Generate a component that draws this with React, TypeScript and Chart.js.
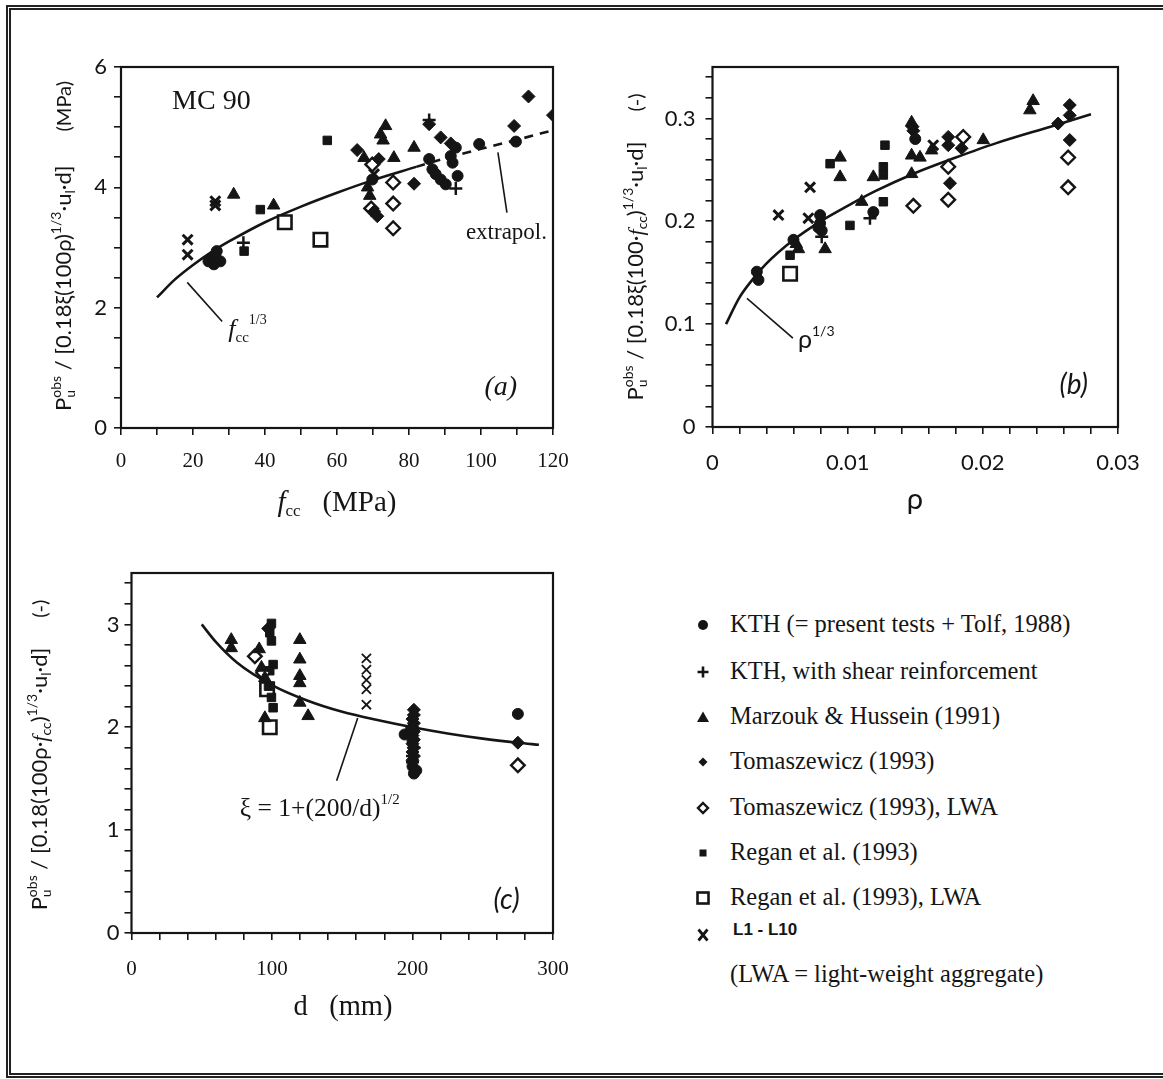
import React, { useEffect, useRef } from 'react';
import { Chart, registerables } from 'chart.js';
Chart.register(...registerables);

// ---------------- DATA ----------------
// (a)  fcc [MPa] vs normalised strength [MPa]
const aCurveX = [10, 15, 20, 25, 30, 40, 50, 60, 70, 82];
const aCurveY = [2.17, 2.47, 2.71, 2.92, 3.1, 3.42, 3.68, 3.91, 4.12, 4.34];
const aExtrapX = [82, 90, 100, 110, 120];
const aExtrapY = [4.34, 4.48, 4.64, 4.79, 4.95];
const aKTH = [[24.3, 2.77], [25.2, 2.8], [26.2, 2.86], [26.6, 2.94], [27.6, 2.77], [25.8, 2.72], [69.8, 4.13], [85.6, 4.47], [86.5, 4.3], [87.4, 4.22], [88.8, 4.13], [90.2, 4.05], [91.6, 4.52], [92.1, 4.41], [93, 4.66], [93.5, 4.19], [99.5, 4.72], [109.7, 4.76]];
const aShear = [[34, 3.08], [85.6, 5.12], [93, 3.98]];
const aMarzouk = [[31.3, 3.88], [42.4, 3.7], [67.5, 4.49], [69.1, 3.86], [68.5, 4.0], [72.1, 4.88], [72.8, 4.78], [73.5, 5.02], [75.8, 4.49], [81.4, 4.66]];
const aTomas = [[65.6, 4.62], [71.6, 4.47], [70.3, 3.6], [71.2, 3.52], [81.4, 4.06], [85.6, 5.05], [88.8, 4.83], [91.6, 4.73], [109.2, 5.02], [113.2, 5.51], [120, 5.2]];
const aTomasLWA = [[69.8, 4.38], [69.5, 3.65], [75.6, 4.08], [75.6, 3.73], [75.6, 3.32]];
const aRegan = [[34.2, 2.94], [38.7, 3.63], [57.3, 4.78]];
const aReganLWA = [[45.5, 3.42], [55.4, 3.13]];
const aL = [[18.5, 3.13], [18.5, 2.88], [26.2, 3.77], [26.2, 3.7], [70.3, 4.22]];

// (b)  rho vs normalised strength [-]
const bCurveX = [0.001, 0.002, 0.003, 0.004, 0.006, 0.008, 0.01, 0.012, 0.015, 0.018, 0.021, 0.025, 0.028];
const bCurveY = [0.1, 0.126, 0.144, 0.159, 0.182, 0.2, 0.215, 0.229, 0.247, 0.262, 0.276, 0.292, 0.304];
const bKTH = [[0.00328, 0.151], [0.0034, 0.143], [0.00599, 0.182], [0.00796, 0.206], [0.00796, 0.198], [0.00808, 0.191], [0.00783, 0.194], [0.0119, 0.209], [0.015, 0.28]];
const bShear = [[0.00808, 0.185], [0.01165, 0.203]];
const bMarzouk = [[0.00636, 0.173], [0.0062, 0.178], [0.00833, 0.173], [0.00944, 0.262], [0.00944, 0.243], [0.01104, 0.219], [0.0119, 0.243], [0.01473, 0.296], [0.01473, 0.264], [0.01535, 0.262], [0.01473, 0.246], [0.01621, 0.269], [0.02003, 0.279], [0.02372, 0.317], [0.02348, 0.308]];
const bTomas = [[0.01486, 0.288], [0.0148, 0.292], [0.01744, 0.282], [0.01744, 0.274], [0.01757, 0.237], [0.01843, 0.271], [0.02557, 0.295], [0.02643, 0.313], [0.02643, 0.303], [0.02643, 0.279]];
const bTomasLWA = [[0.01486, 0.215], [0.01744, 0.253], [0.01744, 0.221], [0.01855, 0.282], [0.02631, 0.262], [0.02631, 0.233]];
const bRegan = [[0.0087, 0.256], [0.00574, 0.167], [0.01017, 0.196], [0.01276, 0.274], [0.01264, 0.253], [0.01264, 0.245], [0.01264, 0.219]];
const bReganLWA = [[0.00574, 0.149]];
const bL = [[0.00488, 0.206], [0.00722, 0.233], [0.00709, 0.203], [0.01633, 0.274]];

// (c)  d [mm] vs normalised strength [-]
const cCurveX = [50, 60, 75, 100, 125, 150, 175, 200, 225, 250, 275, 290];
const cCurveY = [3.0, 2.83, 2.63, 2.41, 2.26, 2.15, 2.07, 2.0, 1.94, 1.89, 1.85, 1.83];
const cKTH = [[194.4, 1.93], [200, 1.62], [202.7, 1.58], [201, 1.55], [275, 2.13], [199, 1.98], [200, 1.87]];
const cShear = [[200, 1.72], [201, 1.8], [200, 1.66]];
const cMarzouk = [[71, 2.85], [71, 2.77], [90.9, 2.76], [92.5, 2.58], [94.9, 2.48], [94.9, 2.09], [119.8, 2.85], [119.8, 2.66], [119.8, 2.5], [119.8, 2.43], [119.8, 2.24], [125.7, 2.11]];
const cTomas = [[97.3, 2.96], [275, 1.85], [201, 2.17], [201, 2.12], [200, 2.08], [201, 2.04], [200, 2.0], [201, 1.96], [200, 1.92], [201, 1.88], [200, 1.84], [201, 1.8], [200, 1.76], [201, 1.72], [200, 1.68]];
const cTomasLWA = [[87.8, 2.69], [93.7, 2.53], [275, 1.63]];
const cRegan = [[99.6, 3.01], [98.4, 2.92], [99.6, 2.84], [100.8, 2.61], [98.4, 2.55], [99.6, 2.29], [100.8, 2.19], [97.5, 2.4]];
const cReganLWA = [[98.4, 2.0], [96.5, 2.37]];
const cL = [[167.2, 2.67], [167.2, 2.56], [167.2, 2.46], [167.2, 2.37], [167.2, 2.22]];

// legend
const legendKeys = ['kth', 'shear', 'tri', 'dia', 'diaO', 'sq', 'sqO', 'x'];
const legendLabels = [
  'KTH (= present tests + Tolf, 1988)',
  'KTH, with shear reinforcement',
  'Marzouk & Hussein (1991)',
  'Tomaszewicz (1993)',
  'Tomaszewicz (1993), LWA',
  'Regan et al. (1993)',
  'Regan et al. (1993), LWA',
  'L1 - L10',
];
const legendNote = '(LWA = light-weight aggregate)';

// ---------------- STYLE ----------------
const INK = '#151515';
const SANS = "Lato, 'Noto Sans', 'DejaVu Sans', sans-serif";
const SERIF = "'Liberation Serif', 'DejaVu Serif', serif";

const STY: Record<string, any> = {
  kth: { pointStyle: 'circle', pointRadius: 5.5, pointBackgroundColor: INK, pointBorderColor: INK, pointBorderWidth: 1 },
  shear: { pointStyle: 'cross', pointRadius: 6.5, pointBackgroundColor: INK, pointBorderColor: INK, pointBorderWidth: 2.5 },
  tri: { pointStyle: 'triangle', pointRadius: 7.2, pointBackgroundColor: INK, pointBorderColor: INK, pointBorderWidth: 1 },
  dia: { pointStyle: 'rectRot', pointRadius: 6.5, pointBackgroundColor: INK, pointBorderColor: INK, pointBorderWidth: 1 },
  diaO: { pointStyle: 'rectRot', pointRadius: 6.8, pointBackgroundColor: '#fff', pointBorderColor: INK, pointBorderWidth: 2.4 },
  sq: { pointStyle: 'rect', pointRadius: 6, pointBackgroundColor: INK, pointBorderColor: INK, pointBorderWidth: 1 },
  sqO: { pointStyle: 'rect', pointRadius: 9.5, pointBackgroundColor: '#fff', pointBorderColor: INK, pointBorderWidth: 2.6 },
  x: { pointStyle: 'crossRot', pointRadius: 7, pointBackgroundColor: INK, pointBorderColor: INK, pointBorderWidth: 3 },
  xThin: { pointStyle: 'crossRot', pointRadius: 6.5, pointBackgroundColor: INK, pointBorderColor: INK, pointBorderWidth: 1.8 },
};

const pts = (arr: number[][]) => arr.map(([x, y]) => ({ x, y }));
const xy = (xs: number[], ys: number[]) => xs.map((x, i) => ({ x, y: ys[i] }));

function scatterSets(groups: [string, number[][]][]) {
  return groups.map(([k, arr]) => ({ label: k, data: pts(arr), showLine: false, ...STY[k], pointHoverRadius: STY[k].pointRadius }));
}
function lineSet(data: any[], dash: number[] = []) {
  return { label: 'curve', data, showLine: true, pointRadius: 0, pointHoverRadius: 0, borderColor: INK, borderWidth: 2.6, borderDash: dash, tension: 0.4, cubicInterpolationMode: 'monotone', fill: false, order: 10 };
}

type Seg = { t: string; f: string; dy?: number; stack?: boolean; gap?: number };
function rich(ctx: CanvasRenderingContext2D, segs: Seg[], x: number, y: number, align = 'left', angle = 0) {
  ctx.save();
  const pos: number[] = [];
  let cx = 0, lastStart = 0, lastEnd = 0;
  segs.forEach((s) => {
    ctx.font = s.f;
    const w = ctx.measureText(s.t).width + (s.gap || 0);
    const start = s.stack ? lastStart : cx;
    pos.push(start + (s.gap || 0));
    const end = start + w;
    if (s.stack) { cx = Math.max(lastEnd, end); lastEnd = cx; }
    else { lastStart = start; lastEnd = end; cx = end; }
  });
  const off = align === 'center' ? -cx / 2 : align === 'right' ? -cx : 0;
  ctx.translate(x, y);
  ctx.rotate(angle);
  ctx.fillStyle = INK;
  ctx.textBaseline = 'alphabetic';
  ctx.textAlign = 'left';
  segs.forEach((s, i) => { ctx.font = s.f; ctx.fillText(s.t, off + pos[i], s.dy || 0); });
  ctx.restore();
}
function txt(ctx: CanvasRenderingContext2D, t: string, f: string, x: number, y: number, align: CanvasTextAlign = 'left') {
  ctx.save();
  ctx.font = f; ctx.fillStyle = INK; ctx.textAlign = align; ctx.textBaseline = 'middle';
  ctx.fillText(t, x, y);
  ctx.restore();
}
function leader(ctx: CanvasRenderingContext2D, chart: any, p1: number[], p2: number[]) {
  const sx = chart.scales.x, sy = chart.scales.y;
  ctx.save();
  ctx.strokeStyle = INK; ctx.lineWidth = 1.6;
  ctx.beginPath();
  ctx.moveTo(sx.getPixelForValue(p1[0]), sy.getPixelForValue(p1[1]));
  ctx.lineTo(sx.getPixelForValue(p2[0]), sy.getPixelForValue(p2[1]));
  ctx.stroke();
  ctx.restore();
}

const isMult = (v: number, m: number) => Math.abs(v / m - Math.round(v / m)) < 1e-6;

function axis(o: any) {
  return {
    type: 'linear',
    min: o.min, max: o.max,
    afterFit: (s: any) => { if (o.w !== undefined) s.width = o.w; if (o.h !== undefined) s.height = o.h; },
    border: { display: false },
    grid: { drawOnChartArea: false, drawTicks: true, tickLength: 7, color: INK, lineWidth: 1.6 },
    ticks: {
      stepSize: o.step, autoSkip: false, maxRotation: 0, minRotation: 0, includeBounds: false, maxTicksLimit: 100,
      padding: o.pad, color: INK, font: { family: o.family, size: o.size },
      callback: (v: number) => (isMult(v, o.every) ? String(Number(v.toFixed(4))) : ''),
    },
  };
}

function makeChart(canvas: HTMLCanvasElement, datasets: any[], xAx: any, yAx: any, pad: any, draw: (ctx: CanvasRenderingContext2D, chart: any) => void) {
  return new Chart(canvas, {
    type: 'scatter',
    data: { datasets },
    options: {
      responsive: false,
      animation: false,
      devicePixelRatio: 1,
      events: [],
      layout: { padding: pad },
      plugins: { legend: { display: false }, tooltip: { enabled: false } },
      scales: { x: axis(xAx), y: axis(yAx) },
    } as any,
    plugins: [{
      id: 'deco',
      afterDraw(chart: any) {
        const ctx = chart.ctx as CanvasRenderingContext2D;
        const a = chart.chartArea;
        ctx.save();
        ctx.strokeStyle = INK; ctx.lineWidth = 2.2;
        ctx.strokeRect(a.left, a.top, a.right - a.left, a.bottom - a.top);
        ctx.restore();
        draw(ctx, chart);
      },
    }],
  } as any);
}

const F = `22px ${SANS}`;
const Fu = `20px ${SANS}`;
const Fs = `14px ${SANS}`;
const FI = `italic 22px ${SERIF}`;

export default function App() {
  const ra = useRef<HTMLCanvasElement>(null);
  const rb = useRef<HTMLCanvasElement>(null);
  const rc = useRef<HTMLCanvasElement>(null);

  useEffect(() => {
    const charts: Chart[] = [];
    // ---- (a)
    charts.push(makeChart(ra.current!, [
      ...scatterSets([['kth', aKTH], ['shear', aShear], ['tri', aMarzouk], ['dia', aTomas], ['diaO', aTomasLWA], ['sq', aRegan], ['sqO', aReganLWA], ['x', aL]]),
      lineSet(xy(aCurveX, aCurveY)),
      lineSet(xy(aExtrapX, aExtrapY), [9, 7]),
    ],
      { min: 0, max: 120, step: 10, every: 20, h: 112, pad: 14, family: SERIF, size: 21 },
      { min: 0, max: 6, step: 0.5, every: 2, w: 121, pad: 7, family: SANS, size: 22 },
      { left: 0, top: 67, right: 47, bottom: 0 },
      (ctx, chart) => {
        const sx = chart.scales.x, sy = chart.scales.y;
        const X = (v: number) => sx.getPixelForValue(v), Y = (v: number) => sy.getPixelForValue(v);
        txt(ctx, 'MC 90', `28px ${SERIF}`, X(14.2), Y(5.43));
        txt(ctx, '(a)', `italic 28px ${SERIF}`, X(105.5), Y(0.67), 'center');
        rich(ctx, [{ t: 'f', f: `italic 26px ${SERIF}` }, { t: 'cc', f: `15px ${SERIF}`, dy: 5 }, { t: '1/3', f: `14px ${SERIF}`, dy: -13 }], X(29.8), Y(1.52));
        leader(ctx, chart, [18.4, 2.42], [28.1, 1.77]);
        txt(ctx, 'extrapol.', `23px ${SERIF}`, X(95.8), Y(3.25));
        leader(ctx, chart, [104.7, 4.58], [107.2, 3.58]);
        rich(ctx, [
          { t: 'P', f: F }, { t: 'u', f: Fs, dy: 4 }, { t: 'obs', f: Fs, dy: -10, stack: true },
          { t: ' / [0.18ξ(100ρ)', f: F }, { t: '1/3', f: Fs, dy: -10 }, { t: '·u', f: F }, { t: 'l', f: Fs, dy: 4 },
          { t: '·d]', f: F }, { t: '(MPa)', f: Fu, gap: 34 },
        ], 71, 246, 'center', -Math.PI / 2);
        rich(ctx, [{ t: 'f', f: `italic 29px ${SERIF}` }, { t: 'cc', f: `17px ${SERIF}`, dy: 5 }, { t: '   (MPa)', f: `29px ${SERIF}` }], 337, 511, 'center');
      }));

    // ---- (b)
    charts.push(makeChart(rb.current!, [
      ...scatterSets([['kth', bKTH], ['shear', bShear], ['tri', bMarzouk], ['dia', bTomas], ['diaO', bTomasLWA], ['sq', bRegan], ['sqO', bReganLWA], ['x', bL]]),
      lineSet(xy(bCurveX, bCurveY)),
    ],
      { min: 0, max: 0.03, step: 0.002, every: 0.01, h: 113, pad: 16, family: SANS, size: 22 },
      { min: 0, max: 0.35, step: 0.02, every: 0.1, w: 112.5, pad: 10, family: SANS, size: 22 },
      { left: 0, top: 67, right: 45, bottom: 0 },
      (ctx, chart) => {
        const sx = chart.scales.x, sy = chart.scales.y;
        const X = (v: number) => sx.getPixelForValue(v), Y = (v: number) => sy.getPixelForValue(v);
        rich(ctx, [{ t: 'ρ', f: `25px ${SANS}` }, { t: '1/3', f: `14px ${SANS}`, dy: -12 }], X(0.00632), Y(0.0767));
        leader(ctx, chart, [0.00255, 0.125], [0.00595, 0.0864]);
        txt(ctx, '(b)', `italic 28px ${SANS}`, X(0.02672), Y(0.0408), 'center');
        rich(ctx, [
          { t: 'P', f: F }, { t: 'u', f: Fs, dy: 4 }, { t: 'obs', f: Fs, dy: -10, stack: true },
          { t: ' / [0.18ξ(100·', f: F }, { t: 'f', f: FI }, { t: 'cc', f: Fs, dy: 4 }, { t: ')', f: F }, { t: '1/3', f: Fs, dy: -10 },
          { t: '·u', f: F }, { t: 'l', f: Fs, dy: 4 }, { t: '·d]', f: F }, { t: '(-)', f: Fu, gap: 30 },
        ], 43, 247, 'center', -Math.PI / 2);
        txt(ctx, 'ρ', `29px ${SANS}`, 315, 500, 'center');
      }));

    // ---- (c)
    charts.push(makeChart(rc.current!, [
      ...scatterSets([['kth', cKTH], ['shear', cShear], ['tri', cMarzouk], ['dia', cTomas], ['diaO', cTomasLWA], ['sq', cRegan], ['sqO', cReganLWA], ['xThin', cL]]),
      lineSet(xy(cCurveX, cCurveY)),
    ],
      { min: 0, max: 300, step: 20, every: 100, h: 146, pad: 17, family: SERIF, size: 21 },
      { min: 0, max: 3.5, step: 0.2, every: 1, w: 131.5, pad: 5, family: SANS, size: 22 },
      { left: 0, top: 33, right: 47, bottom: 0 },
      (ctx, chart) => {
        const sx = chart.scales.x, sy = chart.scales.y;
        const X = (v: number) => sx.getPixelForValue(v), Y = (v: number) => sy.getPixelForValue(v);
        rich(ctx, [{ t: 'ξ = 1+(200/d)', f: `25.5px ${SERIF}` }, { t: '1/2', f: `15px ${SERIF}`, dy: -12 }], X(77.1), Y(1.14));
        leader(ctx, chart, [161, 2.09], [146, 1.48]);
        txt(ctx, '(c)', `italic 28px ${SANS}`, X(267), Y(0.32), 'center');
        rich(ctx, [
          { t: 'P', f: F }, { t: 'u', f: Fs, dy: 4 }, { t: 'obs', f: Fs, dy: -10, stack: true },
          { t: ' / [0.18(100ρ·', f: F }, { t: 'f', f: FI }, { t: 'cc', f: Fs, dy: 4 }, { t: ')', f: F }, { t: '1/3', f: Fs, dy: -10 },
          { t: '·u', f: F }, { t: 'l', f: Fs, dy: 4 }, { t: '·d]', f: F }, { t: '(-)', f: Fu, gap: 30 },
        ], 47, 215, 'center', -Math.PI / 2);
        txt(ctx, 'd   (mm)', `28.5px ${SERIF}`, 343, 468, 'center');
      }));
    return () => charts.forEach((c) => c.destroy());
  }, []);

  const rowY = [625, 672, 717, 762, 808, 853, 898, 935];
  const sym = (k: string) => {
    switch (k) {
      case 'kth': return <circle cx="8" cy="8" r="5" fill={INK} />;
      case 'shear': return <path d="M8 2.5v11M2.5 8h11" stroke={INK} strokeWidth="2.6" />;
      case 'tri': return <polygon points="8,2.5 14,13 2,13" fill={INK} />;
      case 'dia': return <polygon points="8,3.5 12.5,8 8,12.5 3.5,8" fill={INK} />;
      case 'diaO': return <polygon points="8,3 13,8 8,13 3,8" fill="#fff" stroke={INK} strokeWidth="2.4" />;
      case 'sq': return <rect x="4.5" y="4.5" width="7" height="7" fill={INK} />;
      case 'sqO': return <rect x="2.5" y="2.5" width="11" height="11" fill="#fff" stroke={INK} strokeWidth="2.6" />;
      default: return <path d="M3.5 2.5l9 11M12.5 2.5l-9 11" stroke={INK} strokeWidth="2.8" />;
    }
  };

  return (
    <div style={{ position: 'fixed', left: 0, top: 0, width: 1163, height: 1079, background: '#fff', overflow: 'hidden' }}>
      <div style={{ position: 'absolute', left: 6, top: 5, width: 1180, height: 1063, border: '5px double #222' }} />
      <canvas ref={ra} width={600} height={540} style={{ position: 'absolute', left: 0, top: 0 }} />
      <canvas ref={rb} width={563} height={540} style={{ position: 'absolute', left: 600, top: 0 }} />
      <canvas ref={rc} width={600} height={539} style={{ position: 'absolute', left: 0, top: 540 }} />
      {legendKeys.map((k, i) => (
        <React.Fragment key={k}>
          <svg width="16" height="16" style={{ position: 'absolute', left: 695, top: rowY[i] - 8 }}>{sym(k)}</svg>
          <div style={{
            position: 'absolute', left: k === 'x' ? 733 : 730, top: rowY[i] - 15, height: 30, lineHeight: '30px', whiteSpace: 'nowrap', color: INK,
            font: k === 'x' ? `bold 17px 'Liberation Sans', Arial, sans-serif` : `24.5px ${SERIF}`,
          }}>{legendLabels[i]}</div>
        </React.Fragment>
      ))}
      <div style={{ position: 'absolute', left: 730, top: 975 - 15, height: 30, lineHeight: '30px', whiteSpace: 'nowrap', color: INK, font: `24.5px ${SERIF}` }}>{legendNote}</div>
    </div>
  );
}
